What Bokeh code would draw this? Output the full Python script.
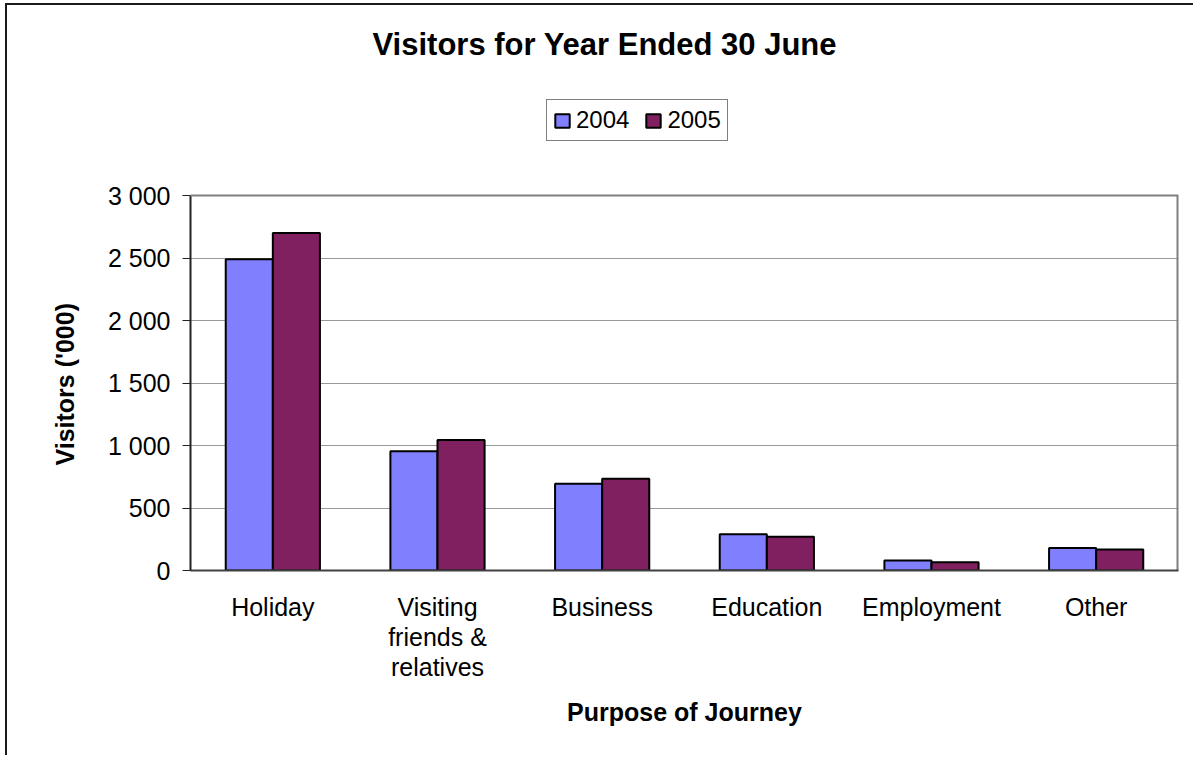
from bokeh.plotting import figure
from bokeh.models import ColumnDataSource, FixedTicker, Legend, LegendItem, Label, Span, Title
from bokeh.transform import dodge
from bokeh.embed import file_html
from bokeh.resources import INLINE

# ---- data ----
categories = ["Holiday", "Visiting\nfriends &\nrelatives", "Business", "Education", "Employment", "Other"]
visitors_2004 = [2490, 955, 695, 290, 80, 180]
visitors_2005 = [2700, 1045, 735, 270, 66, 168]
y_ticks = [0, 500, 1000, 1500, 2000, 2500, 3000]
y_tick_labels = ["0", "500", "1 000", "1 500", "2 000", "2 500", "3 000"]
series_names = ["2004", "2005"]
series_colors = ["#8080FF", "#802060"]
chart_title = "Visitors for Year Ended 30 June"
y_title = "Visitors ('000)"
x_title = "Purpose of Journey"

FONT = "Liberation Sans"

# layout: the frame also holds the title and legend area above the plot area
FRAME_H = 560
PLOT_H = 375
y_max = y_ticks[-1]
y_top = y_max * FRAME_H / PLOT_H

src = ColumnDataSource(data=dict(cat=categories, v2004=visitors_2004, v2005=visitors_2005))

p = figure(x_range=categories, y_range=(0, y_top), width=1188, height=752,
           min_border_left=183, min_border_right=17, min_border_top=5, min_border_bottom=187,
           output_backend="svg", toolbar_location=None)
p.title = None
p.margin = (3, 0, 0, 5)
p.styles = {"border-left": "2px solid #1a1a1a", "border-top": "2px solid #1a1a1a"}
p.x_range.range_padding = 0
p.background_fill_color = "white"
p.border_fill_color = "white"
p.outline_line_color = None

bw = 0.286
r1 = p.vbar(x=dodge("cat", -bw / 2, range=p.x_range), top="v2004", width=bw, source=src,
            fill_color=series_colors[0], line_color="black", line_width=2)
r2 = p.vbar(x=dodge("cat", bw / 2, range=p.x_range), top="v2005", width=bw, source=src,
            fill_color=series_colors[1], line_color="black", line_width=2)

# grid
p.xgrid.grid_line_color = None
p.ygrid.grid_line_color = "#999999"
p.ygrid.grid_line_width = 1

# plot-area border (top and right)
p.add_layout(Span(location=y_max, dimension="width", line_color="#808080", line_width=2))
p.segment(x0=[len(categories)], y0=[0], x1=[len(categories)], y1=[y_max],
          line_color="#808080", line_width=4)

# y axis
p.yaxis.ticker = FixedTicker(ticks=y_ticks)
p.yaxis.bounds = (0, y_max)
p.yaxis.major_label_overrides = {t: l for t, l in zip(y_ticks, y_tick_labels)}
p.yaxis.minor_tick_line_color = None
p.yaxis.major_tick_in = 0
p.yaxis.major_tick_out = 8
p.yaxis.major_tick_line_color = "#222222"
p.yaxis.axis_line_color = "#222222"
p.yaxis.axis_line_width = 2
p.yaxis.major_label_standoff = 12
p.yaxis.major_label_text_font = FONT
p.yaxis.major_label_text_font_size = "25px"
p.yaxis.major_label_text_color = "black"

# y axis title, placed along the plot area only
p.add_layout(Title(text=y_title, align="left", offset=105, standoff=52,
                   text_font=FONT, text_font_style="bold", text_font_size="25px",
                   text_color="black"), "left")

# x axis
p.xaxis.major_tick_line_color = None
p.xaxis.minor_tick_line_color = None
p.xaxis.axis_line_color = "#404040"
p.xaxis.axis_line_width = 2
p.xaxis.major_label_standoff = 16
p.xaxis.major_label_text_font = FONT
p.xaxis.major_label_text_font_size = "25px"
p.xaxis.major_label_text_color = "black"
p.xaxis.major_label_text_line_height = 1.08
p.xaxis.axis_label = x_title
p.xaxis.axis_label_text_font = FONT
p.xaxis.axis_label_text_font_style = "bold"
p.xaxis.axis_label_text_font_size = "25px"
p.xaxis.axis_label_text_color = "black"
p.xaxis.axis_label_standoff = 14

# title
p.add_layout(Label(x=182, y=526, x_units="screen", y_units="screen", text=chart_title,
                   text_align="left", text_baseline="alphabetic", text_font=FONT,
                   text_font_style="bold", text_font_size="31px", text_color="black"))

# legend
legend = Legend(items=[LegendItem(label=series_names[0], renderers=[r1]),
                       LegendItem(label=series_names[1], renderers=[r2])],
                orientation="horizontal", location=(356, 429),
                glyph_width=18, glyph_height=17, label_standoff=5, spacing=15,
                padding=6, margin=0,
                label_text_font=FONT, label_text_font_size="24px", label_text_color="black",
                border_line_color="black", border_line_width=1,
                background_fill_color="white", background_fill_alpha=1)
p.add_layout(legend, "center")

open("out.html", "w").write(file_html(p, INLINE))
